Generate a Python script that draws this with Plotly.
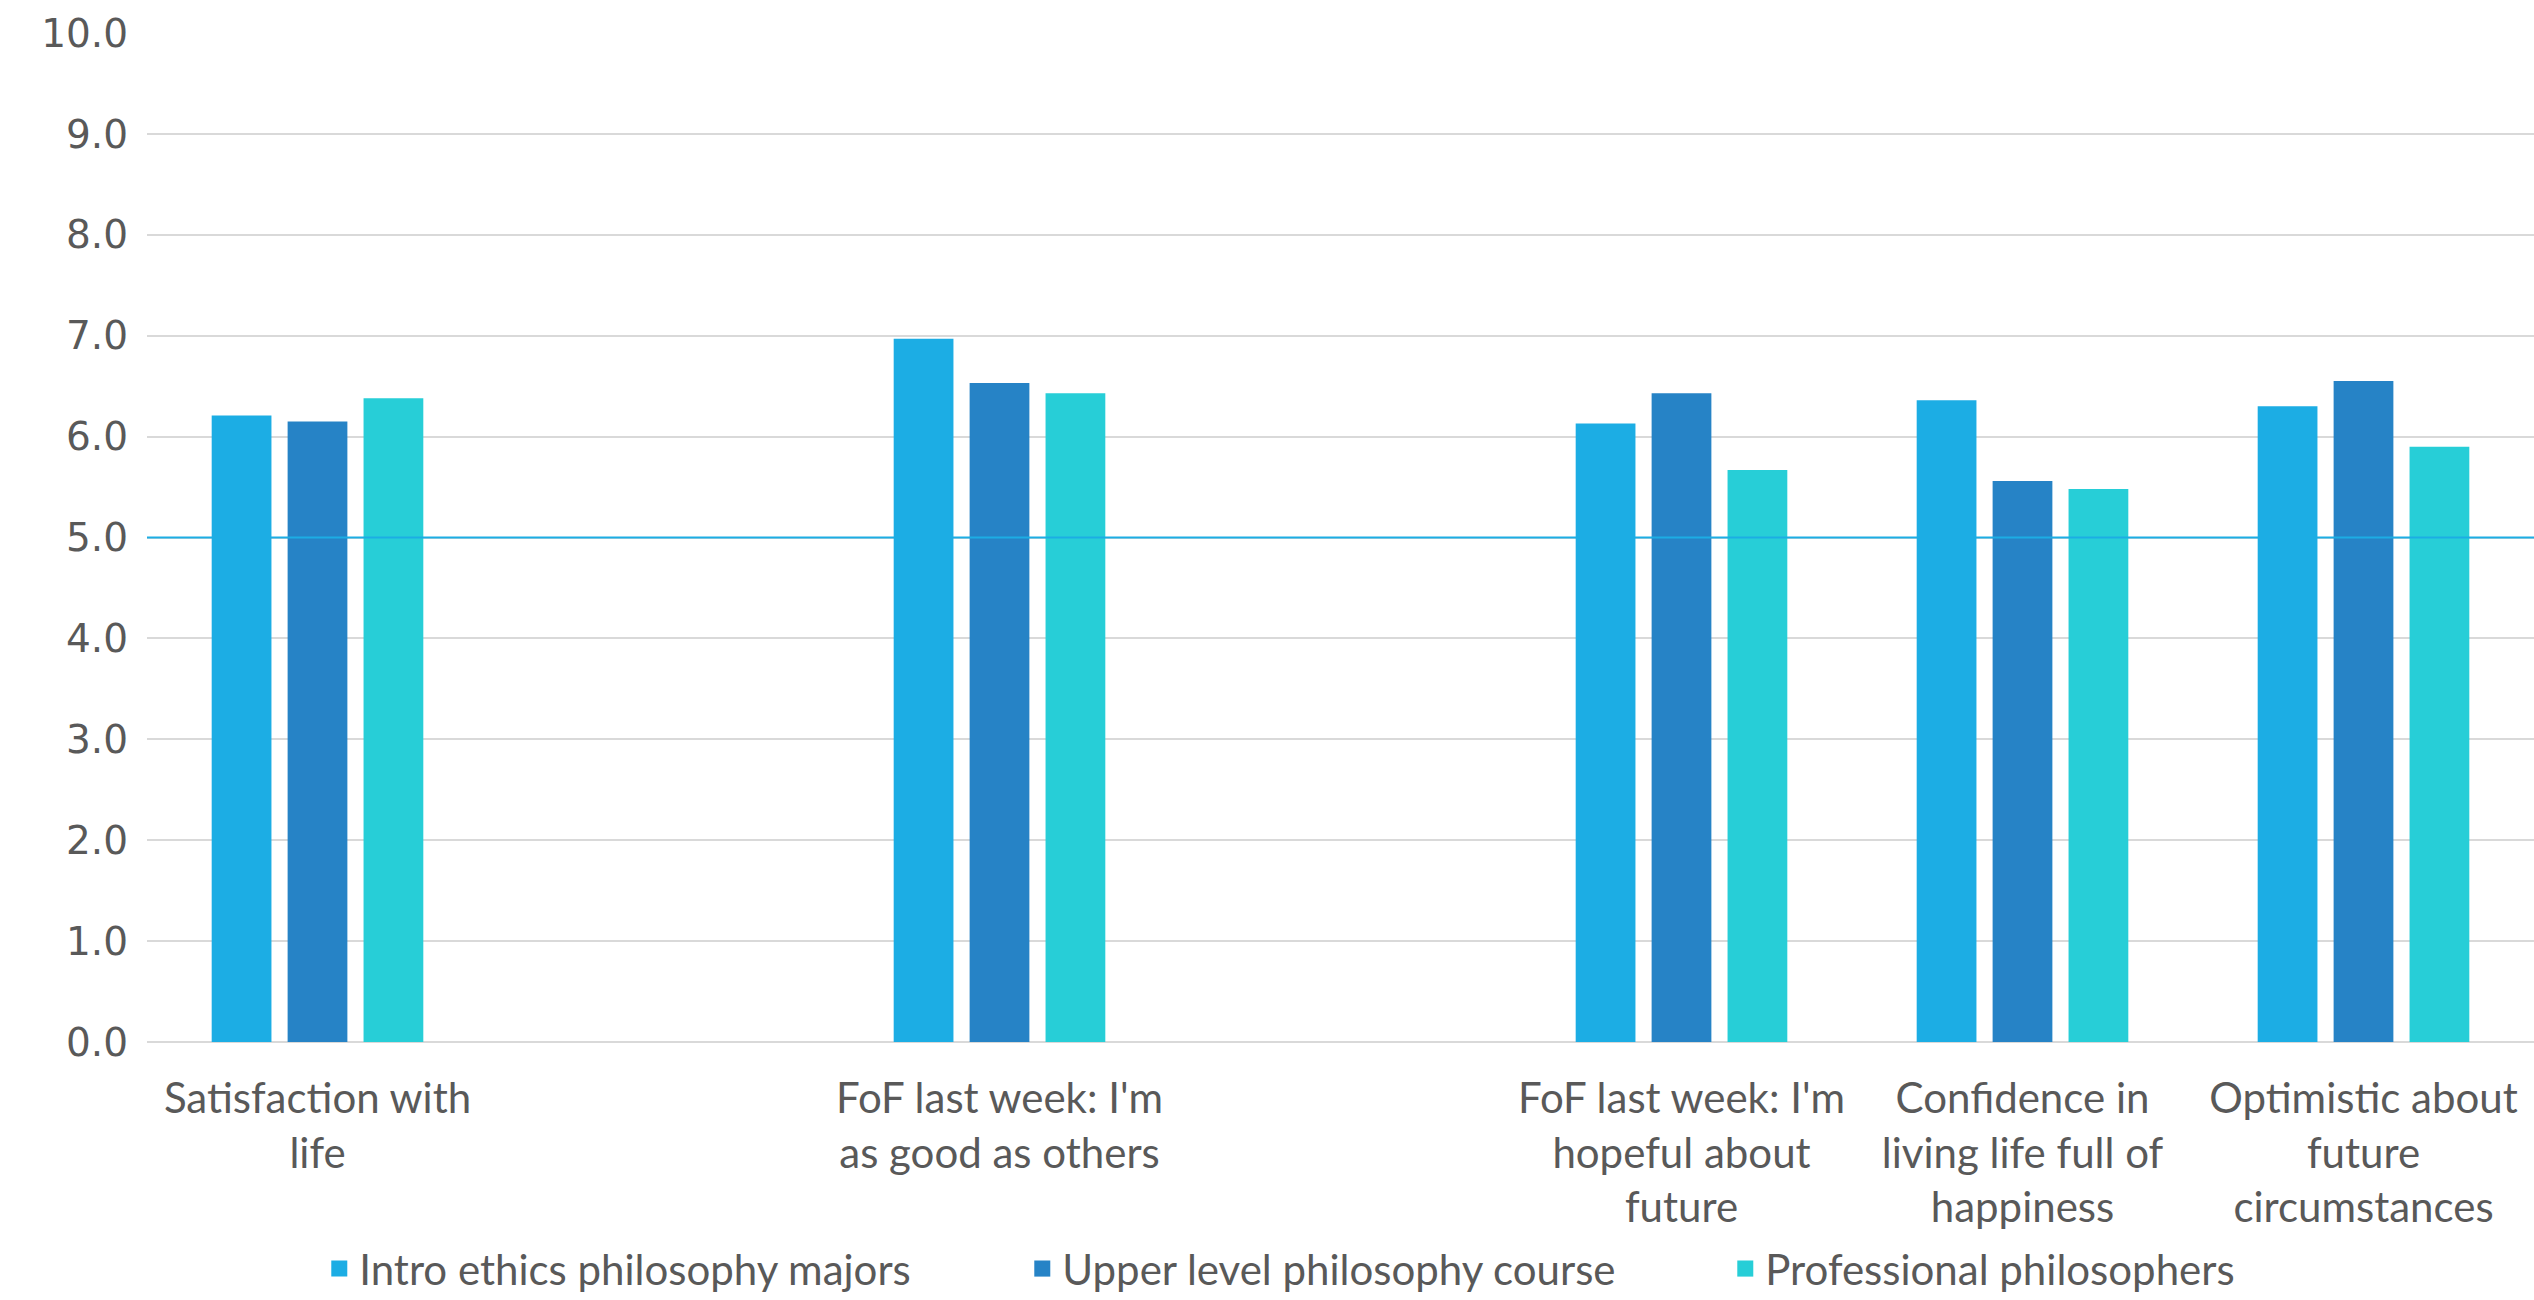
import plotly.graph_objects as go

# Category slots (two blank slots keep the original spacing)
slot_positions = [0, 2, 4, 5, 6]
category_labels = [
    "Satisfaction with<br>life",
    "FoF last week: I'm<br>as good as others",
    "FoF last week: I'm<br>hopeful about<br>future",
    "Confidence in<br>living life full of<br>happiness",
    "Optimistic about<br>future<br>circumstances",
]

series_names = [
    "Intro ethics philosophy majors",
    "Upper level philosophy course",
    "Professional philosophers",
]
intro_ethics = [6.21, 6.97, 6.13, 6.36, 6.30]
upper_level = [6.15, 6.53, 6.43, 5.56, 6.55]
professional = [6.38, 6.43, 5.67, 5.48, 5.90]

midpoint = 5.0
y_ticks = [0, 1, 2, 3, 4, 5, 6, 7, 8, 9, 10]

colors = ["#1CADE4", "#2683C6", "#27CED7"]
text_color = "#595959"
font_family = "Lato, 'Open Sans', sans-serif"

fig = go.Figure()
for name, values, color in zip(series_names, [intro_ethics, upper_level, professional], colors):
    fig.add_trace(go.Bar(
        x=slot_positions,
        y=values,
        name=name,
        legendgroup=name,
        showlegend=False,
        marker=dict(color=color, line=dict(width=0)),
    ))
    # Legend entry with a larger square swatch
    fig.add_trace(go.Scatter(
        x=[None], y=[None], mode="markers", name=name, legendgroup=name,
        marker=dict(symbol="square", size=22, color=color),
    ))

# Horizontal midpoint line across the plot
fig.add_shape(
    type="line", xref="paper", x0=0, x1=1, yref="y", y0=midpoint, y1=midpoint,
    line=dict(color="#1CADE4", width=2), layer="above",
)

fig.update_layout(
    width=2534, height=1300,
    margin=dict(l=147, r=0, t=33, b=258, autoexpand=False),
    paper_bgcolor="white", plot_bgcolor="white",
    barmode="group", bargap=0.332, bargroupgap=0.213,
    font=dict(family=font_family, color=text_color, size=42),
    showlegend=True,
    legend=dict(
        orientation="h", xref="container", x=0.126, xanchor="left",
        yref="container", y=0.024, yanchor="middle",
        font=dict(size=42, color=text_color), itemwidth=30, tracegroupgap=0,
        entrywidth=658, entrywidthmode="pixels",
    ),
    xaxis=dict(
        range=[-0.5, 6.5], tickmode="array", tickvals=slot_positions, ticktext=category_labels,
        showgrid=False, zeroline=False, showline=False, ticks="",
        ticklabelstandoff=28, automargin=False,
        tickfont=dict(size=42, color=text_color),
    ),
    yaxis=dict(
        range=[0, 10], tickmode="array", tickvals=y_ticks, tickformat=".1f",
        showgrid=True, gridcolor="#D9D9D9", gridwidth=2,
        zeroline=True, zerolinecolor="#D9D9D9", zerolinewidth=2,
        showline=False, ticks="", ticklabelstandoff=18, automargin=False,
        tickfont=dict(family="'DejaVu Sans', sans-serif", size=39, color=text_color),
    ),
)

fig.write_html("out.html")
